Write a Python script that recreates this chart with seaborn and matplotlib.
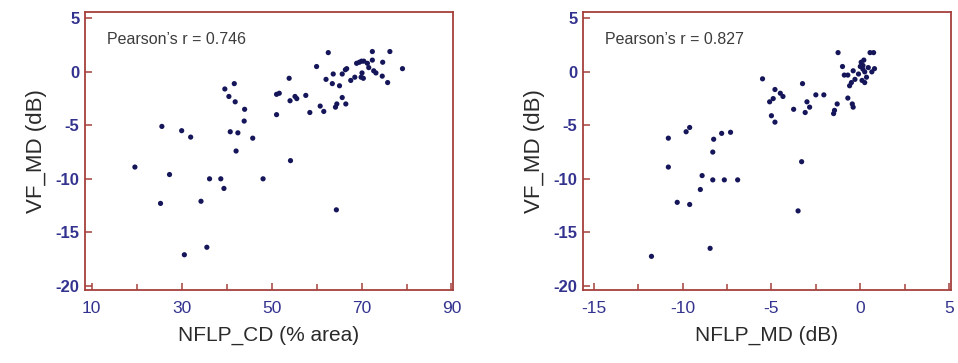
import matplotlib
matplotlib.use("Agg")
import matplotlib.pyplot as plt
from matplotlib.ticker import MultipleLocator
import seaborn as sns
import pandas as pd

# values
cd_x = [19.6, 25.6, 25.3, 27.3, 30.0, 32.0, 30.6, 34.3, 36.2, 35.6, 38.7, 39.4,
        39.6, 40.5, 41.7, 41.9, 40.8, 42.5, 42.1, 44.0, 43.9, 45.8, 48.1, 51.1,
        51.1, 51.7, 53.9, 54.1, 54.2, 55.2, 55.6, 57.6, 58.5, 60.0, 60.8, 61.6,
        62.6, 62.1, 63.7, 63.5, 64.4, 64.2, 64.5, 65.1, 65.7, 66.5, 65.7, 66.4,
        66.7, 67.6, 68.5, 68.9, 69.5, 70.0, 70.5, 71.3, 70.1, 69.9, 70.4, 71.6,
        72.4, 72.4, 72.7, 73.2, 74.7, 74.6, 75.8, 76.3, 79.1]
cd_y = [-8.9, -5.1, -12.3, -9.6, -5.5, -6.1, -17.1, -12.1, -10.0, -16.4, -10.0, -10.9,
        -1.6, -2.3, -1.1, -2.8, -5.6, -5.7, -7.4, -3.5, -4.6, -6.2, -10.0, -4.0,
        -2.1, -2.0, -0.6, -2.7, -8.3, -2.3, -2.5, -2.2, -3.8, 0.5, -3.2, -3.7,
        1.8, -0.7, -0.2, -1.1, -12.9, -3.3, -3.0, -1.3, -2.4, -3.0, -0.2, 0.2,
        0.3, -0.8, -0.5, 0.8, 0.9, 1.0, 1.0, 0.8, -0.1, -0.5, -0.6, 0.4,
        1.1, 1.9, 0.1, -0.1, 0.9, -0.4, -1.0, 1.9, 0.3]

md_x = [-11.75, -10.8, -10.8, -10.3, -9.8, -9.6, -9.6, -8.9, -9.0, -8.45, -8.3, -8.25,
        -8.3, -7.8, -7.65, -7.3, -6.9, -5.5, -5.1, -4.9, -5.0, -4.8, -4.8, -4.5,
        -4.35, -3.75, -3.5, -3.3, -3.25, -3.1, -3.0, -2.85, -2.5, -2.05, -1.5, -1.45,
        -1.3, -1.25, -1.0, -0.9, -0.7, -0.7, -0.6, -0.5, -0.45, -0.4, -0.4, -0.3,
        -0.1, 0.0, 0.05, 0.1, 0.2, 0.15, 0.25, 0.25, 0.35, 0.55, 0.75, 0.65,
        0.8, 0.45, 0.15]
md_y = [-17.25, -6.2, -8.9, -12.2, -5.6, -5.2, -12.4, -9.7, -11.0, -16.5, -7.5, -6.3,
        -10.1, -5.75, -10.1, -5.65, -10.1, -0.65, -2.8, -2.5, -4.1, -4.7, -1.65, -2.0,
        -2.3, -3.5, -13.0, -8.4, -1.1, -3.8, -2.8, -3.3, -2.15, -2.15, -3.9, -3.6,
        -3.0, 1.8, 0.5, -0.3, -0.3, -2.45, -1.3, -1.0, -3.0, -3.3, 0.1, -0.7,
        -0.2, 0.5, 0.9, -0.8, 1.1, 0.6, 0.0, -1.0, -0.5, 1.8, 1.8, 0.0,
        0.3, 0.4, 0.25]

pearson = ["Pearson\u2019s r = 0.746", "Pearson\u2019s r = 0.827"]
x_labels = ["NFLP_CD (% area)", "NFLP_MD (dB)"]
y_label = "VF_MD (dB)"
cd_ticks = [10, 30, 50, 70, 90]
md_ticks = [-15, -10, -5, 0, 5]
y_ticks = [5, 0, -5, -10, -15, -20]

sns.set_style("white")
plt.rcParams["font.family"] = ["Liberation Sans", "DejaVu Sans"]
plt.rcParams["axes.unicode_minus"] = False

SPINE = "#a5403c"
TICKC = "#33338f"
DOT = "#15155a"

fig = plt.figure(figsize=(9.58, 3.63), dpi=100)
ax1 = fig.add_axes([0.0887, 0.201, 0.384, 0.766])
ax2 = fig.add_axes([0.6086, 0.201, 0.384, 0.766])

panels = [
    (ax1, cd_x, cd_y, (8.5, 90.3), cd_ticks, 10, pearson[0], x_labels[0]),
    (ax2, md_x, md_y, (-15.6, 5.1), md_ticks, 2.5, pearson[1], x_labels[1]),
]

for ax, xs, ys, xlim, xt, minor, txt, xl in panels:
    df = pd.DataFrame({"x": xs, "y": ys})
    sns.scatterplot(data=df, x="x", y="y", ax=ax, color=DOT, s=14,
                    edgecolor="none", linewidth=0)
    ax.set_xlim(*xlim)
    ax.set_ylim(-20.4, 5.6)
    ax.set_xticks(xt)
    ax.xaxis.set_minor_locator(MultipleLocator(minor))
    ax.set_yticks(y_ticks)
    for sp in ax.spines.values():
        sp.set_color(SPINE)
        sp.set_linewidth(1.3)
    ax.tick_params(axis="both", which="major", direction="in", length=5,
                   width=1.1, color=SPINE, labelcolor=TICKC, labelsize=12,
                   bottom=True, left=True, pad=4)
    ax.tick_params(axis="x", which="minor", direction="in", length=4,
                   width=1.1, color=SPINE, bottom=True)
    ax.tick_params(axis="x", which="major", pad=8, labelsize=12.5)
    for lab in ax.get_yticklabels():
        lab.set_fontweight("bold")
    ax.set_xlabel(xl, fontsize=15, color="#2a2a2a", labelpad=7)
    ax.set_ylabel(y_label, fontsize=16, color="#2a2a2a", labelpad=6)
    ax.text(0.06, 0.9, txt, transform=ax.transAxes, fontsize=11.5,
            color="#3c3c3c", va="center")

fig.savefig("out.png", dpi=100)
